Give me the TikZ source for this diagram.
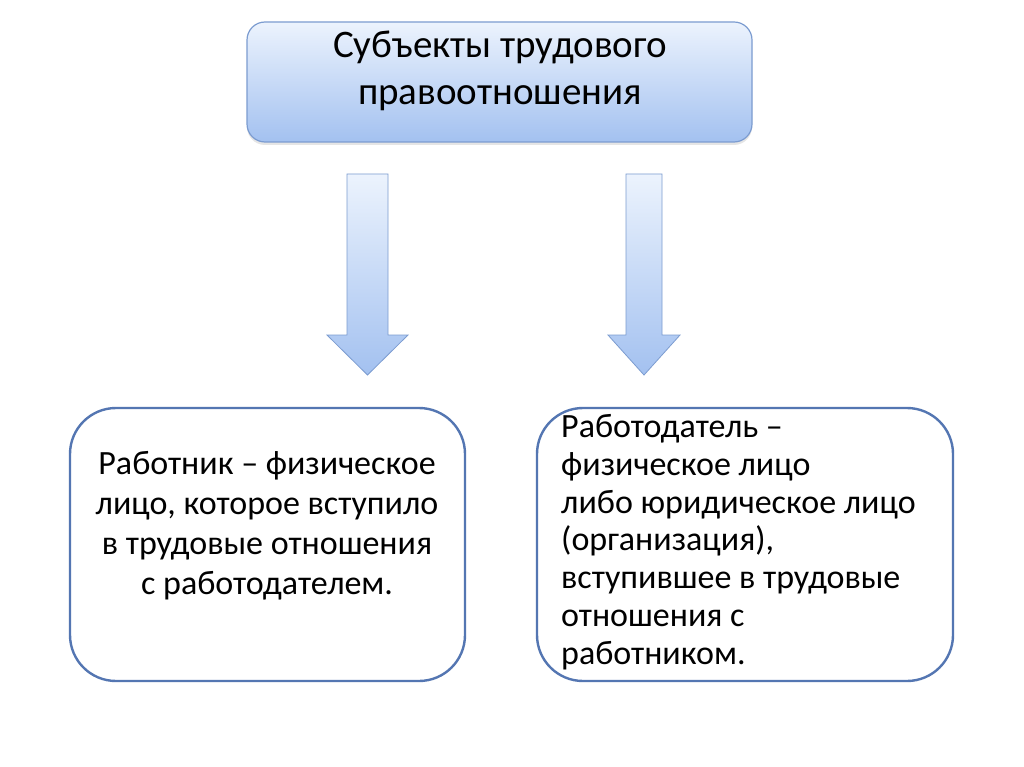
\documentclass[tikz,border=0pt]{standalone}
\usepackage{fontspec}
\setmainfont{Carlito}
\usetikzlibrary{shadows}
\definecolor{paleblue}{RGB}{236,243,253}
\definecolor{midblue}{RGB}{163,193,240}
\definecolor{edgeblue}{RGB}{124,156,208}
\definecolor{frameblue}{RGB}{84,118,178}
\tikzset{
  headbox/.style={draw=edgeblue,line width=1.2pt,rounded corners=18pt,
    top color=paleblue,bottom color=midblue,
    minimum width=505pt,minimum height=120pt,
    drop shadow={shadow xshift=0pt,shadow yshift=-3pt,opacity=0.2}},
  lowbox/.style={draw=frameblue,line width=2.4pt,rounded corners=46pt,fill=white},
  blockarrow/.style={draw=edgeblue,line width=0.8pt,top color=paleblue,bottom color=midblue},
  bodytext/.style={inner sep=0pt,font=\fontsize{34}{40}\selectfont}
}
\begin{document}
\begin{tikzpicture}[x=1pt,y=-1pt]
  \path[fill=white,use as bounding box] (0,0) rectangle (1024,767);
  % top box
  \node[headbox,align=center,font=\fontsize{39}{47}\selectfont] (subj) at (499.5,82) {};
  \node[inner sep=0pt,align=center,font=\fontsize{39}{47}\selectfont] (subjT) at (500,71)
    {Субъекты трудового\\правоотношения};
  % block arrows
  \draw[blockarrow] (347,174) -- (388,174) -- (388,335) -- (408,335) -- (367.5,375)
    -- (327,335) -- (347,335) -- cycle;
  \draw[blockarrow] (626,174) -- (662,174) -- (662,335) -- (680,335) -- (644,375)
    -- (608,335) -- (626,335) -- cycle;
  % lower boxes
  \node[lowbox,minimum width=395pt,minimum height=273pt] (empl) at (267.5,544.5) {};
  \node[lowbox,minimum width=416pt,minimum height=273pt] (emplr) at (745,544.5) {};
  \node[bodytext,align=center] (emplT) at (267,526)
    {Работник – физическое\\лицо, которое вступило\\в трудовые отношения\\с работодателем.};
  \node[bodytext,align=left,anchor=west,font=\fontsize{34}{37.8}\selectfont] (emplrT) at (561,542)
    {Работодатель –\\физическое лицо\\либо юридическое лицо\\(организация),\\вступившее в трудовые\\отношения с\\работником.};
\end{tikzpicture}
\end{document}
